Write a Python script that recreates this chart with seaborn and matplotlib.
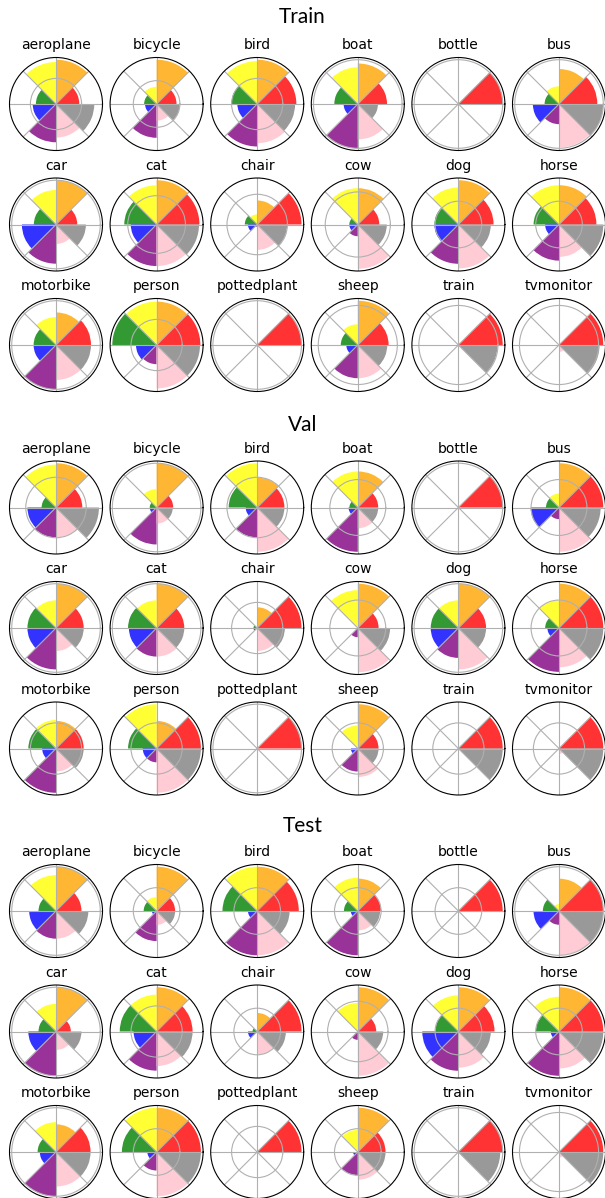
import matplotlib
matplotlib.use("Agg")
import matplotlib.pyplot as plt
from matplotlib.ticker import MaxNLocator, NullFormatter
import numpy as np
import pandas as pd
import seaborn as sns

# PASCAL VOC object classes, one polar panel each
classes = ["aeroplane", "bicycle", "bird", "boat", "bottle", "bus",
           "car", "cat", "chair", "cow", "dog", "horse",
           "motorbike", "person", "pottedplant", "sheep", "train", "tvmonitor"]

# eight 45-degree viewpoint bins, counter-clockwise from 0 degrees
bins = ["0-45", "45-90", "90-135", "135-180",
        "180-225", "225-270", "270-315", "315-360"]
bin_colors = ["red", "orange", "yellow", "green",
              "blue", "purple", "pink", "gray"]

splits = ["Train", "Val", "Test"]

# viewpoint frequency per class (one row per class, one value per bin)
train_freq = [
    [18.2, 34.6, 32.8, 15.7, 18.2, 29.9, 26.2, 29.9],
    [17.1, 38.0, 14.7, 10.7, 9.9, 29.0, 14.3, 19.8],
    [30.6, 34.6, 33.5, 20.2, 15.5, 33.2, 30.6, 29.6],
    [13.2, 18.3, 16.6, 10.6, 6.4, 20.0, 16.0, 9.1],
    [20.0, 0, 0, 0, 0, 0, 0, 0],
    [17.3, 15.8, 8.0, 6.5, 11.8, 9.1, 19.6, 20.0],
    [9.6, 20.0, 15.6, 10.0, 15.4, 17.7, 8.8, 13.5],
    [29.7, 30.7, 27.2, 22.4, 17.9, 28.8, 28.8, 29.4],
    [29.3, 15.9, 6.7, 8.2, 6.1, 1.5, 16.8, 19.8],
    [13.2, 22.3, 22.3, 5.2, 5.2, 7.2, 27.2, 17.8],
    [30.2, 38.0, 31.8, 20.6, 20.6, 33.7, 37.7, 27.8],
    [32.1, 33.7, 33.7, 21.8, 11.9, 31.0, 27.8, 38.0],
    [15.8, 14.7, 12.6, 10.1, 10.1, 20.0, 15.8, 15.8],
    [34.2, 33.9, 33.9, 34.6, 16.1, 15.0, 33.9, 33.9],
    [20.0, 0, 0, 0, 0, 0, 0, 0],
    [15.6, 22.4, 10.5, 8.6, 5.8, 16.8, 16.8, 14.9],
    [22.4, 1.2, 0, 0, 0, 0, 0, 19.8],
    [22.4, 1.2, 0, 0, 0, 0, 3.5, 20.5],
]
val_freq = [
    [17.4, 29.3, 28.4, 9.5, 18.9, 19.8, 19.8, 28.4],
    [7.5, 20.0, 8.3, 3.1, 3.1, 16.7, 7.3, 7.3],
    [18.0, 19.8, 29.3, 18.9, 7.6, 19.8, 29.3, 18.0],
    [14.6, 25.8, 25.8, 6.0, 6.6, 31.7, 14.9, 14.6],
    [20.0, 0, 0, 0, 0, 0, 0, 0],
    [31.7, 31.7, 9.9, 9.3, 20.2, 8.3, 31.7, 29.8],
    [12.5, 20.0, 12.5, 12.9, 12.9, 18.7, 10.4, 12.5],
    [12.5, 20.0, 12.5, 12.9, 12.5, 12.9, 12.9, 12.5],
    [34.6, 16.2, 0, 2.9, 2.9, 0, 18.0, 21.6],
    [14.9, 31.7, 27.1, 0, 0, 6.6, 31.7, 23.1],
    [12.5, 20.0, 12.5, 12.5, 12.5, 13.5, 18.7, 12.5],
    [31.7, 31.7, 19.8, 9.9, 8.3, 31.4, 28.1, 31.7],
    [21.6, 21.6, 22.3, 21.6, 10.8, 34.6, 18.0, 21.6],
    [34.6, 21.6, 34.6, 22.3, 10.8, 10.8, 34.6, 34.6],
    [20.0, 0, 0, 0, 0, 0, 0, 0],
    [16.2, 34.6, 18.0, 0, 5.4, 18.0, 22.3, 16.2],
    [34.6, 0, 0, 0, 0, 0, 0, 34.6],
    [34.6, 0, 0, 0, 0, 0, 4.3, 34.6],
]
test_freq = [
    [11.5, 20.0, 16.2, 7.9, 12.1, 12.5, 12.5, 14.6],
    [15.9, 38.0, 11.9, 11.1, 4.0, 25.8, 11.9, 15.9],
    [35.7, 38.0, 38.0, 29.8, 7.9, 38.0, 38.0, 27.8],
    [19.8, 27.8, 28.6, 11.9, 6.0, 38.0, 16.7, 19.1],
    [38.0, 0, 0, 0, 0, 0, 0, 0],
    [20.0, 14.6, 3.1, 7.3, 11.5, 6.2, 20.0, 20.0],
    [6.7, 20.0, 12.5, 7.9, 12.5, 20.0, 8.3, 11.5],
    [28.1, 34.6, 28.8, 28.8, 18.0, 30.6, 27.0, 28.1],
    [38.0, 15.9, 0, 4.0, 7.9, 0, 19.8, 24.6],
    [12.2, 29.3, 18.9, 0, 0, 5.5, 29.3, 16.8],
    [31.0, 38.0, 31.0, 19.8, 31.0, 33.7, 31.0, 27.8],
    [38.0, 38.0, 29.8, 19.8, 7.1, 38.0, 31.7, 38.0],
    [15.6, 12.5, 13.5, 8.3, 7.3, 20.0, 15.6, 15.6],
    [38.0, 38.0, 38.0, 29.8, 7.9, 15.9, 38.0, 38.0],
    [34.6, 0, 0, 0, 0, 0, 0, 0],
    [23.8, 38.0, 19.0, 0, 4.0, 19.8, 23.8, 23.8],
    [20.0, 0, 0, 0, 0, 0, 0, 18.9],
    [22.4, 0, 0, 0, 0, 0, 2.8, 22.4],
]

# long-form table of every bar
records = []
for split, table in zip(splits, [train_freq, val_freq, test_freq]):
    for cls, row in zip(classes, table):
        for b, v in zip(bins, row):
            records.append({"split": split, "cls": cls, "bin": b, "freq": v})
df = pd.DataFrame(records)

palette = dict(zip(bins, sns.color_palette(bin_colors)))
theta_start = np.deg2rad(np.arange(len(bins)) * 45.0)
bin_theta = dict(zip(bins, theta_start))

W, H = 605, 1198
fig = plt.figure(figsize=(W / 100, H / 100), dpi=100)

diam = 93.0          # panel diameter (px)
row_pitch = 120.5
col_left, col_right = 9.5, 605.5
block_tops = [57.5, 461.0, 864.5]
title_ys = [17, 425, 826]

for split, top_px, ty in zip(splits, block_tops, title_ys):
    bottom_px = top_px + 2 * row_pitch + diam
    gs = fig.add_gridspec(
        3, 6,
        left=col_left / W, right=col_right / W,
        top=1 - top_px / H, bottom=1 - bottom_px / H,
        wspace=(((col_right - col_left) - 6 * diam) / 5) / diam,
        hspace=(row_pitch - diam) / diam,
    )
    fig.text(0.5, 1 - ty / H, split, ha="center", va="center",
             fontsize=15, family=["Lato", "DejaVu Sans"])
    sub = df[df["split"] == split]
    for k, cls in enumerate(classes):
        ax = fig.add_subplot(gs[k // 6, k % 6], projection="polar")
        d = sub[sub["cls"] == cls]
        ax.bar([bin_theta[b] for b in d["bin"]], d["freq"],
               width=np.pi / 4, align="edge",
               color=[palette[b] for b in d["bin"]], alpha=0.8, linewidth=0)
        ax.xaxis.set_major_formatter(NullFormatter())
        ax.yaxis.set_major_formatter(NullFormatter())
        ax.yaxis.set_major_locator(MaxNLocator(nbins=2, steps=[1, 2, 2.5, 5, 10]))
        ax.set_title(cls, fontsize=10)

fig.savefig("out.png", dpi=100)
